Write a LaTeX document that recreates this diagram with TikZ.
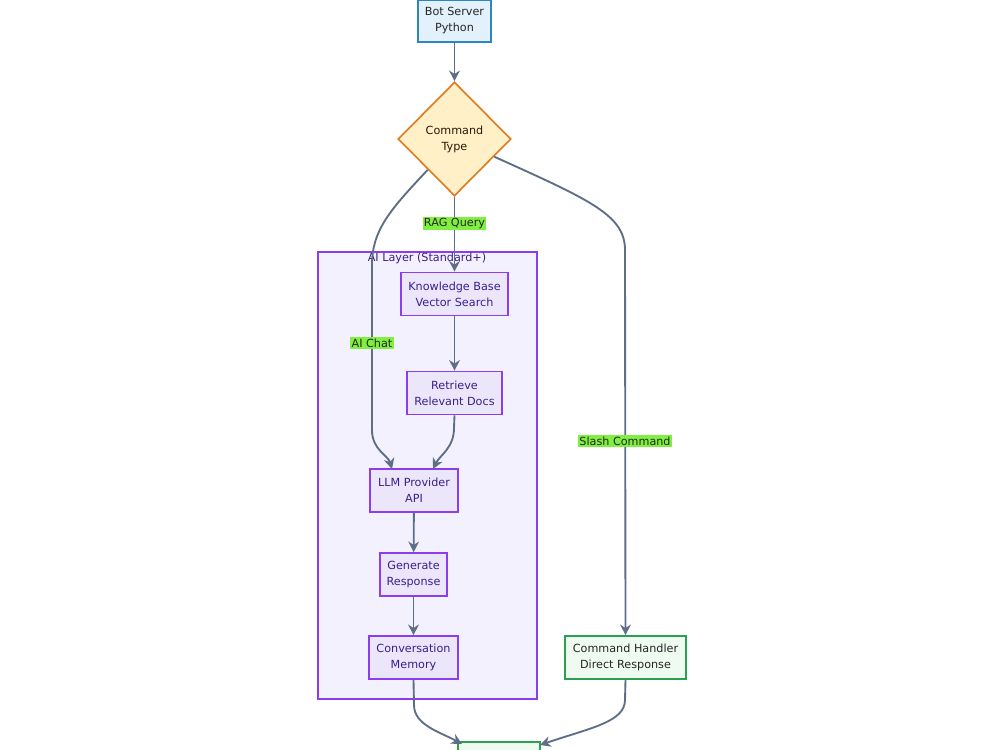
\documentclass[tikz,border=0pt]{standalone}
\usepackage{fontspec}
\setmainfont{DejaVu Sans}
\usetikzlibrary{shapes.geometric,arrows.meta}
\definecolor{edgec}{HTML}{5F6E87}
\definecolor{lblbg}{HTML}{80F040}
\definecolor{purpb}{HTML}{8B3DF0}
\definecolor{purpf}{HTML}{ECE6FB}
\definecolor{purpt}{HTML}{3A1F8C}
\definecolor{clusf}{HTML}{F4F1FE}
\definecolor{blueb}{HTML}{2A86C4}
\definecolor{bluef}{HTML}{E2F1FB}
\definecolor{orgb}{HTML}{E07A1C}
\definecolor{orgf}{HTML}{FFF0C8}
\definecolor{grnb}{HTML}{2AA050}
\definecolor{grnf}{HTML}{EFFAF1}
\tikzset{
  every node/.style={font=\fontsize{8.4}{12}\selectfont, align=center, inner sep=0pt},
  aibox/.style={draw=purpb, fill=purpf, line width=1.2pt, text=purpt, minimum height=43*0.75pt},
  bluebox/.style={draw=blueb, fill=bluef, line width=1.2pt, text=black!85, minimum height=42*0.75pt},
  grnbox/.style={draw=grnb, fill=grnf, line width=1.2pt, text=black!85, minimum height=43*0.75pt},
  decision/.style={diamond, draw=orgb, fill=orgf, line width=1.2pt, text=black!80!orgb, minimum width=113*0.75pt, minimum height=114*0.75pt, aspect=1},
  edge/.style={draw=edgec, line width=1.4pt, -{Stealth[length=8pt,width=8pt]}},
  elabel/.style={fill=lblbg, text=black!85, inner sep=1pt},
}
\begin{document}
\begin{tikzpicture}[x=0.75pt,y=-0.75pt]
\clip (0,0) rectangle (1000,750);
\fill[white] (0,0) rectangle (1000,750);
% cluster
\node[draw=purpb, fill=clusf, line width=1.2pt, minimum width=219*0.75pt, minimum height=447*0.75pt] (cluster) at (427.5,475.5) {};
\node[text=purpt, anchor=north] (clabel) at (427,253) {AI Layer (Standard+)};
% nodes
\node[bluebox, minimum width=73*0.75pt] (bot) at (454.5,21) {Bot Server\\Python};
\node[decision] (ct) at (454.5,139) {Command\\Type};
\node[aibox, minimum width=107*0.75pt] (kb) at (454.5,294) {Knowledge Base\\Vector Search};
\node[aibox, minimum width=95*0.75pt] (ret) at (454.5,393) {Retrieve\\Relevant Docs};
\node[aibox, minimum width=88*0.75pt] (llm) at (414,490.5) {LLM Provider\\API};
\node[aibox, minimum width=67*0.75pt] (gen) at (413.5,574.5) {Generate\\Response};
\node[aibox, minimum width=89*0.75pt] (mem) at (413.5,657.5) {Conversation\\Memory};
\node[grnbox, minimum width=121*0.75pt] (cmd) at (625.5,657.5) {Command Handler\\Direct Response};
\node[grnbox, minimum width=82*0.75pt, anchor=north] (out) at (499,741) {};
% coordinates
\coordinate (llmL) at (392,469);
\coordinate (llmR) at (433,469);
\coordinate (outL) at (462,744);
\coordinate (outR) at (540,745);
% edges
\draw[edge] (bot) -- (ct);
\draw[edge] (ct.south) -- node[elabel, pos=0.36] (lrag) {RAG Query} (kb.north);
\draw[edge] (ct.229) .. controls (390,210) and (372,230) .. (372,265) -- (372,430) .. controls (372,450) and (388,455) .. (llmL);
\node[elabel] (lchat) at (372,343) {AI Chat};
\draw[edge] (ct.336) .. controls (590,200) and (625,215) .. (625,250) -- (cmd.north);
\node[elabel] (lslash) at (625,441) {Slash Command};
\draw[edge] (kb) -- (ret);
\draw[edge] (ret.south) -- (454,428) .. controls (454,448) and (440,455) .. (llmR);
\draw[edge] (llm) -- (gen);
\draw[edge] (gen) -- (mem);
\draw[edge] (mem.south) -- (414,705) .. controls (414,725) and (440,732) .. (outL);
\draw[edge] (cmd.south) -- (625,700) .. controls (625,722) and (590,728) .. (outR);
\end{tikzpicture}
\end{document}
